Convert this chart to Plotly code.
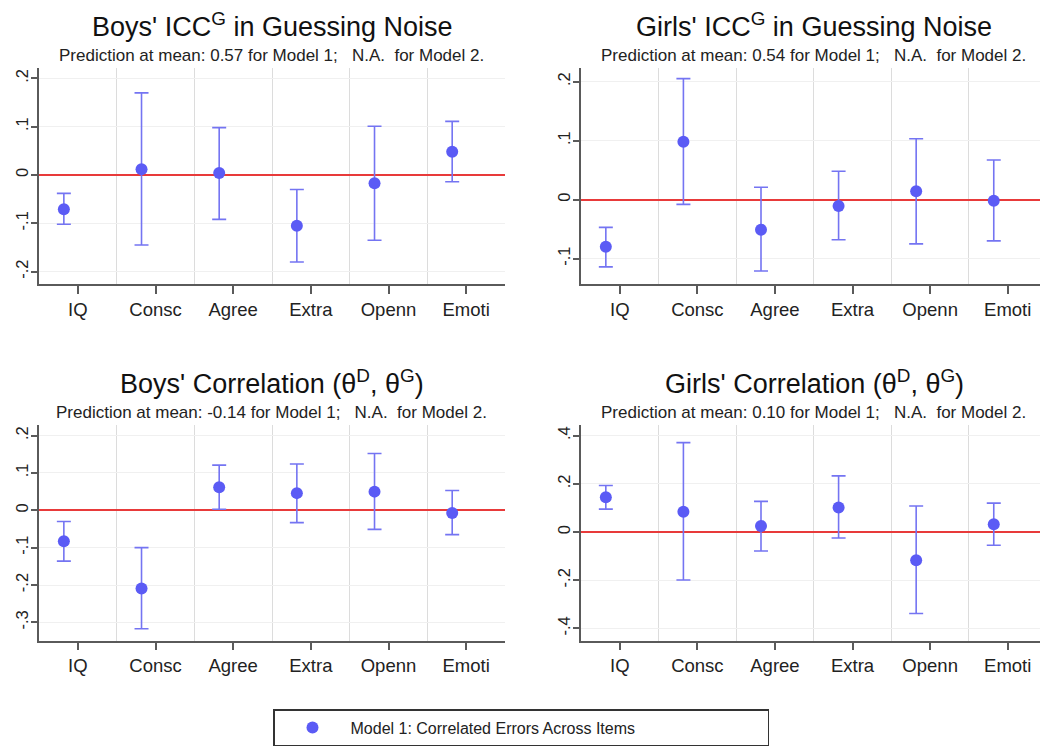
import plotly.graph_objects as go

W, H = 1040, 750

categories = ["IQ", "Consc", "Agree", "Extra", "Openn", "Emoti"]

# Panel 1: Boys' ICC^G in Guessing Noise
boys_icc_point = [-0.071, 0.012, 0.004, -0.105, -0.017, 0.048]
boys_icc_upper = [-0.038, 0.170, 0.098, -0.030, 0.101, 0.111]
boys_icc_lower = [-0.102, -0.145, -0.092, -0.180, -0.135, -0.014]

# Panel 2: Girls' ICC^G in Guessing Noise
girls_icc_point = [-0.080, 0.098, -0.051, -0.011, 0.014, -0.002]
girls_icc_upper = [-0.047, 0.205, 0.021, 0.048, 0.103, 0.067]
girls_icc_lower = [-0.114, -0.008, -0.121, -0.068, -0.075, -0.070]

# Panel 3: Boys' Correlation
boys_cor_point = [-0.083, -0.209, 0.062, 0.046, 0.050, -0.007]
boys_cor_upper = [-0.030, -0.100, 0.121, 0.124, 0.152, 0.053]
boys_cor_lower = [-0.136, -0.317, 0.003, -0.033, -0.051, -0.065]

# Panel 4: Girls' Correlation
girls_cor_point = [0.144, 0.084, 0.025, 0.102, -0.117, 0.032]
girls_cor_upper = [0.193, 0.371, 0.127, 0.233, 0.108, 0.120]
girls_cor_lower = [0.095, -0.199, -0.079, -0.025, -0.338, -0.055]

titles = [
    "Boys' ICC<sup>G</sup> in Guessing Noise",
    "Girls' ICC<sup>G</sup> in Guessing Noise",
    "Boys' Correlation (θ<sup>D</sup>, θ<sup>G</sup>)",
    "Girls' Correlation (θ<sup>D</sup>, θ<sup>G</sup>)",
]
subtitles = [
    "Prediction at mean: 0.57 for Model 1;   N.A.  for Model 2.",
    "Prediction at mean: 0.54 for Model 1;   N.A.  for Model 2.",
    "Prediction at mean: -0.14 for Model 1;   N.A.  for Model 2.",
    "Prediction at mean: 0.10 for Model 1;   N.A.  for Model 2.",
]
ytick_vals = [
    [-0.2, -0.1, 0, 0.1, 0.2],
    [-0.1, 0, 0.1, 0.2],
    [-0.3, -0.2, -0.1, 0, 0.1, 0.2],
    [-0.4, -0.2, 0, 0.2, 0.4],
]
ytick_text = [
    ["-.2", "-.1", "0", ".1", ".2"],
    ["-.1", "0", ".1", ".2"],
    ["-.3", "-.2", "-.1", "0", ".1", ".2"],
    ["-.4", "-.2", "0", ".2", ".4"],
]
y_ranges = [[-0.2257, 0.2215], [-0.143, 0.223], [-0.3485, 0.2297], [-0.450, 0.446]]
legend_name = "Model 1: Correlated Errors Across Items"

panels = [
    (boys_icc_point, boys_icc_upper, boys_icc_lower),
    (girls_icc_point, girls_icc_upper, girls_icc_lower),
    (boys_cor_point, boys_cor_upper, boys_cor_lower),
    (girls_cor_point, girls_cor_upper, girls_cor_lower),
]

# layout in pixels: (left, right, top, bottom) of plot areas
boxes = [
    (39, 505, 68, 284),
    (581, 1040, 68, 284),
    (39, 505, 424.5, 640.5),
    (581, 1040, 424.5, 640.5),
]
x_ranges = [[0.5, 6.5], [0.5, 6.416], [0.5, 6.5], [0.5, 6.416]]
title_centers = [(272, 25), (814, 25), (272, 382), (814, 382)]
sub_centers = [(271, 55), (813, 55), (271, 412), (813, 412)]

OFFSET = -0.18
MARKER = "#5b5bf5"
ERRC = "#7474f2"
AXC = "#5a5a5a"
FONT = "Liberation Sans, Arial, sans-serif"

fig = go.Figure()
pos = list(range(1, len(categories) + 1))
for i, (pt, up, lo) in enumerate(panels):
    n = "" if i == 0 else str(i + 1)
    fig.add_trace(go.Scatter(
        x=[p + OFFSET for p in pos], y=pt,
        mode="markers",
        marker=dict(color=MARKER, size=12, line=dict(width=0)),
        error_y=dict(type="data", symmetric=False,
                     array=[u - p for u, p in zip(up, pt)],
                     arrayminus=[p - l for p, l in zip(pt, lo)],
                     color=ERRC, thickness=1.6, width=7),
        name=legend_name, showlegend=(i == 0),
        xaxis="x" + n, yaxis="y" + n,
    ))
    l, r, t, b = boxes[i]
    xa = dict(
        domain=[l / W, r / W], range=x_ranges[i], anchor="y" + n,
        tickmode="array", tickvals=pos, ticktext=categories,
        ticks="outside", ticklen=8, tickwidth=1.5, tickcolor=AXC,
        showline=True, linecolor=AXC, linewidth=1.5,
        showgrid=False, zeroline=False, automargin=False,
        tickfont=dict(size=18.5, color="#222", family=FONT),
        minor=dict(tickvals=[1.5, 2.5, 3.5, 4.5, 5.5], showgrid=True,
                   gridcolor="#dcdcdc", gridwidth=1.2, ticklen=0),
        fixedrange=True,
    )
    ya = dict(
        domain=[1 - b / H, 1 - t / H], range=y_ranges[i], anchor="x" + n,
        tickmode="array", tickvals=ytick_vals[i], ticktext=ytick_text[i],
        tickangle=-90, automargin=False, ticklabelstandoff=-3,
        ticks="outside", ticklen=6, tickwidth=1.5, tickcolor=AXC,
        showline=True, linecolor=AXC, linewidth=1.5,
        showgrid=True, gridcolor="#f0f0f0", gridwidth=1,
        zeroline=True, zerolinecolor="#e83a3a", zerolinewidth=2.2,
        tickfont=dict(size=16.5, color="#222", family=FONT),
        fixedrange=True,
    )
    fig.layout["xaxis" + n] = xa
    fig.layout["yaxis" + n] = ya

annotations = []
for i in range(4):
    cx, cy = title_centers[i]
    annotations.append(dict(
        text=titles[i], x=cx / W, y=1 - cy / H, xref="paper", yref="paper",
        xanchor="center", yanchor="middle", showarrow=False,
        font=dict(size=27, color="#111", family=FONT)))
    sx, sy = sub_centers[i]
    annotations.append(dict(
        text=subtitles[i], x=sx / W, y=1 - sy / H, xref="paper", yref="paper",
        xanchor="center", yanchor="middle", showarrow=False,
        font=dict(size=17, color="#222", family=FONT)))

fig.update_layout(
    width=W, height=H,
    margin=dict(l=0, r=0, t=0, b=0, autoexpand=False),
    paper_bgcolor="white", plot_bgcolor="white",
    font=dict(family=FONT),
    annotations=annotations,
    showlegend=True,
    legend=dict(
        orientation="h", xref="paper", yref="paper",
        x=273 / W, xanchor="left", y=1 - 709 / H, yanchor="top",
        bordercolor="#333", borderwidth=1.5, bgcolor="white",
        entrywidth=412, entrywidthmode="pixels", itemwidth=66,
        font=dict(size=16, color="#222", family=FONT),
    ),
)

fig.write_html("out.html", config={"displayModeBar": False},
               post_script="document.body.style.margin='0';")
